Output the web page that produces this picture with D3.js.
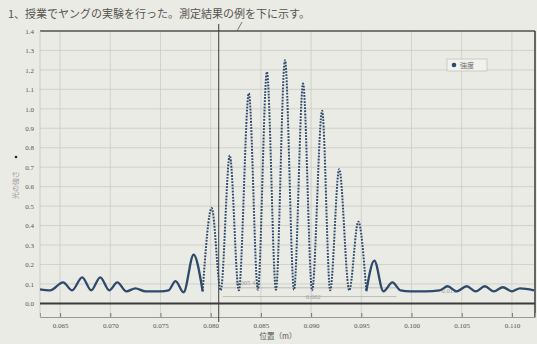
<!DOCTYPE html>
<html lang="ja">
<head>
<meta charset="utf-8">
<style>
  body { margin: 0; background: #ebebe6; }
  svg { display: block; background: #ebebe6; }
  .grid line { stroke: #cbcbc5; stroke-width: 0.8px; }
  .tick text { fill: #555; font-family: "Liberation Serif", "DejaVu Serif", serif; font-size: 7px; }
  .curve { fill: none; stroke: #2d4a6b; stroke-width: 2.3px; stroke-linejoin: round; }
  .curve.steep { stroke-width: 2px; stroke-dasharray: 1.8 1.3; }
  .note { fill: #9a9a96; font-family: "Liberation Serif", serif; font-size: 6.5px; }
</style>
<script src="https://d3js.org/d3.v7.min.js"></script>
</head>
<body>
<script>
// values
var position = [0.0630, 0.0640, 0.0653, 0.0662, 0.0672, 0.0681, 0.0690, 0.0699, 0.0707, 0.0716,
                0.0725, 0.0735, 0.0750, 0.0758, 0.0765, 0.0773, 0.0783, 0.0792, 0.0801, 0.0810,
                0.0819, 0.0828, 0.0838, 0.0847, 0.0856, 0.0865, 0.0874, 0.0883, 0.0892, 0.0901,
                0.0911, 0.0919, 0.0928, 0.0938, 0.0947, 0.0955, 0.0963, 0.0972, 0.0981, 0.0989,
                0.0999, 0.1014, 0.1028, 0.1036, 0.1045, 0.1055, 0.1064, 0.1073, 0.1082, 0.1091,
                0.1100, 0.1108, 0.1122];
var intensity = [0.072, 0.067, 0.108, 0.067, 0.134, 0.067, 0.134, 0.067, 0.108, 0.062,
                 0.077, 0.062, 0.062, 0.067, 0.114, 0.057, 0.25, 0.062, 0.49, 0.067,
                 0.76, 0.067, 1.08, 0.07, 1.19, 0.07, 1.25, 0.07, 1.13, 0.067,
                 0.99, 0.067, 0.69, 0.067, 0.42, 0.062, 0.22, 0.062, 0.108, 0.067,
                 0.062, 0.062, 0.067, 0.088, 0.062, 0.088, 0.062, 0.088, 0.062, 0.083,
                 0.062, 0.077, 0.067];
var xTicks = [0.065, 0.070, 0.075, 0.080, 0.085, 0.090, 0.095, 0.100, 0.105, 0.110];
var yTicks = [0.0, 0.1, 0.2, 0.3, 0.4, 0.5, 0.6, 0.7, 0.8, 0.9, 1.0, 1.1, 1.2, 1.3, 1.4];

var width = 537, height = 344;
var plotL = 40, plotR = 535, plotT = 31, plotB = 317;

var svg = d3.select("body").append("svg")
    .attr("width", width)
    .attr("height", height);

var x = d3.scaleLinear().domain([0.063, 0.1123]).range([plotL, plotR]);
var y = d3.scaleLinear().domain([-0.07, 1.4]).range([plotB, plotT]);

// title
svg.append("text")
    .attr("x", 8).attr("y", 18)
    .style("font-family", "'Noto Sans CJK JP', sans-serif")
    .style("font-size", "11px")
    .style("fill", "#55554f")
    .text("1、授業でヤングの実験を行った。測定結果の例を下に示す。");

// grid
var grid = svg.append("g").attr("class", "grid");
grid.selectAll(".h").data(yTicks.slice(1)).enter().append("line")
    .attr("x1", plotL).attr("x2", plotR)
    .attr("y1", function(d) { return y(d); }).attr("y2", function(d) { return y(d); });
grid.selectAll(".v").data(xTicks).enter().append("line")
    .attr("x1", function(d) { return x(d); }).attr("x2", function(d) { return x(d); })
    .attr("y1", plotT).attr("y2", plotB);

// frame
svg.append("line").attr("x1", plotL).attr("x2", plotR).attr("y1", plotT).attr("y2", plotT)
    .style("stroke", "#555").style("stroke-width", 1.4);
svg.append("line").attr("x1", plotR).attr("x2", plotR).attr("y1", plotT).attr("y2", plotB)
    .style("stroke", "#444").style("stroke-width", 1.6);
svg.append("line").attr("x1", plotL).attr("x2", plotL).attr("y1", plotT).attr("y2", plotB)
    .style("stroke", "#c4c4be").style("stroke-width", 0.8);

// x axis along the bottom of the frame, labels below
var xAxis = svg.append("g")
    .attr("transform", "translate(0," + plotB + ")")
    .call(d3.axisBottom(x).tickValues(xTicks).tickSize(-4).tickPadding(6)
        .tickFormat(d3.format(".3f")));
xAxis.select(".domain").style("stroke", "#9a9a95");
xAxis.selectAll(".tick line").style("stroke", "#777");

// y axis labels
var yAxis = svg.append("g")
    .attr("transform", "translate(" + plotL + ",0)")
    .call(d3.axisLeft(y).tickValues(yTicks).tickSize(0).tickPadding(6)
        .tickFormat(d3.format(".1f")));
yAxis.select(".domain").remove();

// zero line
svg.append("line").attr("x1", plotL).attr("x2", plotR)
    .attr("y1", y(0)).attr("y2", y(0))
    .style("stroke", "#3a3a3a").style("stroke-width", 2);

// hand-drawn marker line
svg.append("line").attr("x1", x(0.0808)).attr("x2", x(0.0808))
    .attr("y1", 24).attr("y2", 322)
    .style("stroke", "#3c3c3c").style("stroke-width", 1);
svg.append("line").attr("x1", 242).attr("x2", 237).attr("y1", 22).attr("y2", 31)
    .style("stroke", "#555").style("stroke-width", 0.8);

// faint annotations
svg.append("line").attr("x1", x(0.0812)).attr("x2", x(0.0985))
    .attr("y1", y(0.08)).attr("y2", y(0.08))
    .style("stroke", "#b0b0aa").style("stroke-width", 0.8);
svg.append("line").attr("x1", x(0.0812)).attr("x2", x(0.0985))
    .attr("y1", y(0.035)).attr("y2", y(0.035))
    .style("stroke", "#b0b0aa").style("stroke-width", 0.8);
svg.append("text").attr("class", "note").attr("x", x(0.0825)).attr("y", y(0.095)).text("0.005  4.5");
svg.append("text").attr("class", "note").attr("x", x(0.0895)).attr("y", y(0.02)).text("0.002");
svg.append("text").attr("class", "note").attr("x", x(0.1030)).attr("y", y(0.055)).text("0.015");

// data curve: the steep central fringes show as dotted (dense markers), the rest as a solid line
var pts = position.map(function(p, i) { return [p, intensity[i]]; });
var line = d3.line()
    .x(function(d) { return x(d[0]); })
    .y(function(d) { return y(d[1]); })
    .curve(d3.curveMonotoneX);
var iA = position.indexOf(0.0792), iB = position.indexOf(0.0955);
svg.append("path").datum(pts.slice(0, iA + 1)).attr("class", "curve").attr("d", line);
svg.append("path").datum(pts.slice(iB)).attr("class", "curve").attr("d", line);
svg.append("path").datum(pts.slice(iA, iB + 1)).attr("class", "curve steep").attr("d", line);

// legend
var lg = svg.append("g").attr("transform", "translate(447,59)");
lg.append("rect").attr("width", 40).attr("height", 12)
    .style("fill", "#f1f1ed").style("stroke", "#b5b5b0").style("stroke-width", 0.6);
lg.append("circle").attr("cx", 7).attr("cy", 6).attr("r", 2.3).style("fill", "#2d4a6b");
lg.append("text").attr("x", 13).attr("y", 9)
    .style("font-family", "'Noto Sans CJK JP', sans-serif")
    .style("font-size", "7px").style("fill", "#666")
    .text("強度");

// axis titles
svg.append("text")
    .attr("transform", "translate(18,185) rotate(-90)")
    .attr("text-anchor", "middle")
    .style("font-family", "'Noto Sans CJK JP', sans-serif")
    .style("font-size", "7px").style("fill", "#9a9a96")
    .text("光の強さ");
svg.append("circle").attr("cx", 16).attr("cy", 157).attr("r", 1.3).style("fill", "#223");
svg.append("text")
    .attr("x", 278).attr("y", 339)
    .attr("text-anchor", "middle")
    .style("font-family", "'Noto Sans CJK JP', sans-serif")
    .style("font-size", "7.5px").style("fill", "#555")
    .text("位置（m）");
</script>
</body>
</html>
